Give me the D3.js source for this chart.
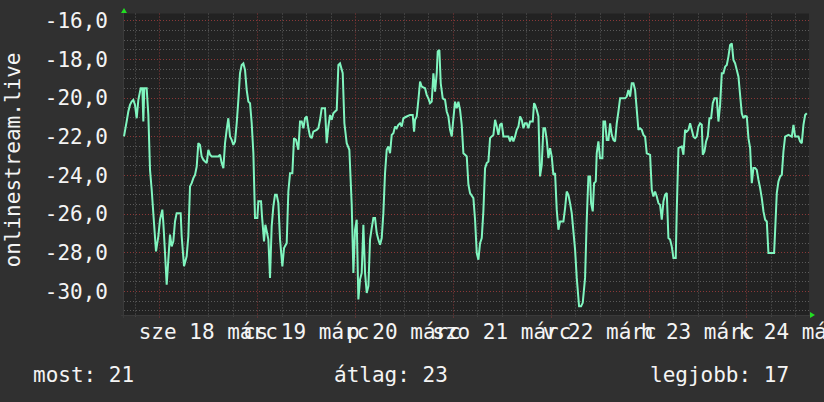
<!DOCTYPE html>
<html><head><meta charset="utf-8">
<script src="https://cdn.jsdelivr.net/npm/d3@7"></script>
<style>html,body{margin:0;padding:0;background:#303030;}svg{display:block}</style>
</head><body>
<svg id="chart" width="824" height="402"></svg>
<script>
// ---- data ----
const yTickValues = [-16, -18, -20, -22, -24, -26, -28, -30];
const dayLabels = ["sze 18 márc", "cs 19 márc", "p 20 márc", "szo 21 márc", "v 22 márc", "h 23 márc", "k 24 márc"];
const axisTitle = "onlinestream.live";
const legendLabels = ["most: 21", "átlag: 23", "legjobb: 17"];
const startTime = Date.UTC(2020, 2, 17, 15, 20);
const spanHours = 168;
const yDomain = [-31.24, -15.64];
// hours after start
const hours = [
  0.00,0.65,1.06,1.47,1.88,2.29,2.70,3.11,3.52,4.09,
  4.50,4.74,4.99,5.56,5.97,6.38,6.79,7.36,7.85,8.42,
  8.83,9.40,9.65,10.06,10.47,10.87,11.28,11.69,12.10,12.51,
  12.92,13.90,14.15,14.72,15.37,15.78,16.19,16.60,17.01,17.42,
  17.83,18.23,18.64,19.05,19.46,19.87,20.28,20.69,21.10,21.50,
  22.32,23.14,23.55,23.96,24.37,24.78,25.18,25.59,26.00,26.41,
  26.82,27.23,27.64,28.05,28.45,28.86,29.27,29.68,30.09,30.50,
  30.91,31.32,31.73,32.13,32.71,32.95,33.61,33.85,34.34,34.67,
  35.00,35.41,35.81,36.22,36.63,37.04,37.45,37.86,38.27,38.84,
  39.25,39.90,40.31,40.72,41.29,41.70,42.19,42.76,43.17,43.58,
  43.99,44.40,44.81,45.22,45.63,46.03,46.44,47.26,47.67,48.08,
  48.49,49.30,49.71,50.12,50.53,50.94,51.35,51.76,52.17,52.58,
  52.98,53.64,54.05,54.62,55.27,55.85,56.26,56.66,57.07,57.48,
  57.89,58.30,58.71,59.12,59.53,59.94,60.34,60.75,61.16,61.57,
  61.98,62.39,62.80,63.21,63.61,64.02,64.43,64.84,65.25,65.66,
  66.07,66.48,66.88,67.29,67.70,68.11,68.52,69.34,70.16,70.81,
  71.14,71.38,71.79,72.20,72.61,73.02,73.83,74.24,74.65,75.06,
  75.47,75.88,76.29,76.70,76.94,77.35,77.68,78.17,78.74,79.15,
  79.56,79.97,80.38,80.79,81.19,81.60,82.01,82.42,82.83,83.24,
  83.65,84.06,84.47,84.87,85.69,86.10,86.51,86.92,87.33,87.74,
  88.14,88.55,88.96,89.37,89.78,90.19,90.60,91.01,91.41,91.82,
  92.23,92.64,93.05,94.28,94.69,95.09,95.50,95.91,96.32,96.73,
  97.14,97.55,97.96,98.36,98.77,99.18,99.59,100.25,100.57,100.82,
  101.23,101.64,102.04,102.45,102.86,103.27,103.68,104.09,104.50,104.91,
  105.31,105.72,106.13,106.54,106.95,107.77,108.18,108.58,108.99,109.40,
  109.81,110.22,110.63,111.04,111.61,112.10,112.51,113.08,113.49,113.90,
  114.31,114.55,114.96,115.29,115.70,115.94,116.35,116.76,117.33,117.58,
  117.99,118.40,118.81,119.22,119.62,120.03,120.44,120.85,121.26,121.67,
  122.89,123.30,123.71,124.12,124.53,124.94,125.35,125.76,126.16,126.57,
  126.98,127.39,127.80,128.21,129.03,129.44,129.84,130.25,130.66,131.07,
  131.48,131.89,132.30,132.71,133.12,133.52,133.93,134.34,134.75,135.32,
  135.57,135.98,136.79,137.20,137.61,138.02,138.43,138.84,139.25,139.66,
  140.07,140.47,140.88,141.29,141.70,141.95,142.36,142.76,143.17,143.58,
  143.99,144.40,144.81,145.38,145.79,146.20,146.61,147.02,147.43,147.84,
  148.24,148.65,149.06,149.47,149.88,150.29,150.70,151.10,151.51,151.92,
  152.33,152.74,153.15,153.56,153.97,154.37,154.78,155.19,155.60,156.01,
  156.42,156.83,157.24,157.65,158.05,159.44,159.69,160.10,160.51,160.92,
  161.33,161.73,162.14,162.96,163.78,164.19,164.60,165.41,165.82,166.23,
  166.64,167.05,167.46
];
const values = [
  -22.00,-21.23,-20.71,-20.37,-20.20,-20.11,-20.37,-21.06,-20.11,-19.51,
  -19.51,-21.23,-19.51,-19.51,-20.89,-23.73,-24.76,-26.48,-27.95,-27.17,
  -26.31,-25.79,-26.48,-28.03,-29.67,-28.38,-27.08,-27.69,-27.43,-26.40,
  -25.97,-25.97,-27.17,-28.72,-28.20,-27.17,-24.59,-24.42,-24.16,-23.99,
  -23.56,-22.35,-22.44,-23.04,-23.21,-23.30,-23.38,-22.69,-22.95,-23.04,
  -23.04,-23.04,-22.95,-23.38,-23.64,-22.35,-21.66,-21.06,-22.00,-22.18,
  -22.44,-22.26,-21.32,-20.11,-18.73,-18.30,-18.22,-18.56,-19.59,-20.20,
  -20.28,-21.32,-22.87,-26.22,-26.22,-25.36,-25.36,-26.14,-27.43,-26.57,
  -26.91,-27.34,-29.32,-26.65,-25.62,-25.02,-25.02,-25.45,-27.34,-28.72,
  -27.77,-27.52,-24.85,-23.90,-23.90,-22.09,-22.18,-22.69,-21.23,-21.23,
  -21.58,-21.06,-20.97,-21.58,-22.00,-22.09,-21.75,-21.66,-21.58,-21.14,
  -20.54,-20.54,-22.35,-21.49,-20.89,-21.14,-20.80,-20.71,-20.63,-18.30,
  -18.22,-18.73,-21.32,-22.35,-22.69,-25.54,-29.06,-26.83,-26.31,-30.44,
  -29.41,-29.06,-26.57,-29.06,-30.10,-29.75,-27.34,-26.74,-26.22,-26.22,
  -27.00,-27.34,-27.60,-27.26,-25.97,-23.90,-22.69,-22.52,-22.87,-21.92,
  -21.83,-21.49,-21.58,-21.40,-21.32,-21.49,-21.06,-20.97,-20.89,-20.89,
  -21.75,-21.14,-20.97,-20.11,-19.16,-19.42,-19.51,-19.85,-20.03,-20.28,
  -20.20,-18.73,-19.68,-18.73,-17.61,-17.53,-19.25,-20.03,-20.11,-20.71,
  -20.97,-21.66,-22.00,-21.06,-20.20,-20.54,-20.20,-20.63,-21.40,-22.87,
  -22.95,-23.04,-24.50,-24.93,-25.19,-26.31,-28.03,-28.38,-27.52,-27.26,
  -25.88,-23.64,-23.38,-23.30,-22.09,-22.00,-21.92,-21.14,-21.49,-21.92,
  -21.40,-21.32,-22.00,-22.00,-22.26,-22.00,-22.26,-22.00,-21.66,-21.49,
  -20.97,-21.14,-21.58,-21.32,-21.32,-21.58,-21.23,-21.23,-20.28,-20.37,
  -20.63,-20.97,-24.07,-23.47,-21.58,-21.58,-22.18,-23.12,-22.61,-23.04,
  -23.99,-23.90,-25.79,-26.83,-26.40,-26.40,-25.71,-24.85,-25.02,-25.45,
  -25.97,-26.91,-27.86,-29.32,-30.79,-30.79,-30.61,-29.32,-26.31,-24.07,
  -24.07,-25.45,-25.88,-24.42,-24.33,-22.87,-22.26,-23.13,-23.13,-21.23,
  -21.23,-22.18,-22.18,-21.32,-21.92,-22.18,-22.26,-21.32,-20.71,-20.03,
  -20.03,-19.94,-19.60,-19.94,-19.25,-19.25,-19.60,-20.63,-21.66,-21.58,
  -21.66,-21.92,-22.01,-22.87,-22.95,-24.76,-25.11,-24.85,-25.11,-25.45,
  -25.54,-26.31,-25.36,-25.02,-24.93,-27.26,-27.34,-27.69,-28.29,-28.29,
  -25.79,-22.61,-22.52,-22.95,-21.66,-21.75,-21.66,-21.32,-21.66,-22.01,
  -22.09,-22.01,-21.49,-21.32,-21.40,-22.95,-22.78,-22.26,-22.01,-21.06,
  -21.06,-20.28,-20.03,-20.03,-21.23,-20.37,-18.73,-18.73,-18.39,-18.30,
  -17.87,-17.27,-17.19,-18.05,-18.22,-18.56,-18.91,-19.85,-20.80,-21.06,
  -20.94,-20.97,-22.09,-22.61,-24.42,-23.64,-23.64,-23.73,-24.24,-24.67,
  -25.19,-25.88,-26.31,-26.40,-28.03,-28.03,-26.91,-24.93,-24.33,-24.07,
  -23.99,-22.78,-22.01,-21.92,-22.01,-21.40,-22.01,-22.01,-22.26,-22.35,
  -21.40,-20.89,-20.80
];

// ---- layout ----
const W = 824, H = 402;
const plot = {left: 124, right: 809, top: 13.5, bottom: 315};
const FONT = "'DejaVu Sans Mono', 'Liberation Mono', monospace";
const TEXT = "#f4f4f4";

const svg = d3.select("#chart");
svg.append("rect").attr("width", W).attr("height", H).attr("fill", "#303030");

const t0 = new Date(startTime);
const t1 = new Date(startTime + spanHours * 3600e3);
const x = d3.scaleUtc().domain([t0, t1]).range([plot.left, plot.right]);
const y = d3.scaleLinear().domain(yDomain).range([plot.bottom, plot.top]);

svg.append("rect")
  .attr("x", plot.left - 1).attr("y", plot.top)
  .attr("width", plot.right - plot.left + 1).attr("height", plot.bottom - plot.top)
  .attr("fill", "#222222");

const grid = svg.append("g");
// minor horizontal
const minorY = d3.range(-31, -15.5, 0.5).filter(v => v % 2 !== 0);
grid.selectAll(".hmin").data(minorY).join("line")
  .attr("x1", plot.left).attr("x2", plot.right)
  .attr("y1", d => Math.round(y(d)) + 0.5).attr("y2", d => Math.round(y(d)) + 0.5)
  .attr("stroke", "#5a5a5a").attr("stroke-dasharray", "1,2");
// minor vertical (6h)
const minorX = d3.utcHour.every(6).range(t0, t1).filter(d => d.getUTCHours() !== 0);
grid.selectAll(".vmin").data(minorX).join("line")
  .attr("x1", d => Math.round(x(d)) + 0.5).attr("x2", d => Math.round(x(d)) + 0.5)
  .attr("y1", plot.top).attr("y2", plot.bottom + 2)
  .attr("stroke", "#5a5a5a").attr("stroke-dasharray", "1,2");
// major horizontal
grid.selectAll(".hmaj").data(yTickValues).join("line")
  .attr("x1", plot.left).attr("x2", plot.right)
  .attr("y1", d => Math.round(y(d)) + 0.5).attr("y2", d => Math.round(y(d)) + 0.5)
  .attr("stroke", "#8a3838").attr("stroke-dasharray", "1,2");
// major vertical (midnight)
const majorX = d3.utcDay.range(t0, t1);
grid.selectAll(".vmaj").data(majorX).join("line")
  .attr("x1", d => Math.round(x(d)) + 0.5).attr("x2", d => Math.round(x(d)) + 0.5)
  .attr("y1", plot.top).attr("y2", plot.bottom + 3)
  .attr("stroke", "#8a3838").attr("stroke-dasharray", "1,2");

// axes lines (subtle)
svg.append("line").attr("x1", plot.left - 0.5).attr("x2", plot.left - 0.5)
  .attr("y1", plot.top - 3).attr("y2", plot.bottom + 3).attr("stroke", "#3a3a3a");
svg.append("line").attr("x1", plot.left - 3).attr("x2", plot.right + 3)
  .attr("y1", plot.bottom + 0.5).attr("y2", plot.bottom + 0.5).attr("stroke", "#3a3a3a");

// series
const data = hours.map((h, i) => ({t: new Date(startTime + h * 3600e3), v: values[i]}));
svg.append("path").datum(data)
  .attr("fill", "none").attr("stroke", "#80f5bf").attr("stroke-width", 2)
  .attr("stroke-linejoin", "miter").attr("stroke-miterlimit", 2)
  .attr("d", d3.line().x(d => x(d.t)).y(d => y(d.v)));

// arrows
const ax = plot.left, ay = plot.top;
svg.append("path").attr("fill", "#22dd22")
  .attr("d", `M${ax - 3},${ay - 0.5} L${ax + 3},${ay - 0.5} L${ax},${ay - 5.5} Z`);
const bx = plot.right, by = plot.bottom;
svg.append("path").attr("fill", "#22dd22")
  .attr("d", `M${bx + 1},${by - 3} L${bx + 1},${by + 3} L${bx + 6},${by} Z`);

// y labels
const fmt = d3.formatLocale({decimal: ",", thousands: " ", grouping: [3], currency: ["", ""], minus: "-"}).format(".1f");
svg.append("g").selectAll("text").data(yTickValues).join("text")
  .attr("x", 108).attr("y", d => y(d) + 7.5)
  .attr("text-anchor", "end")
  .attr("font-family", FONT).attr("font-size", 21).attr("fill", TEXT)
  .text(d => fmt(d));

// x labels (centered at noon)
const noons = majorX.map(d => new Date(+d + 12 * 3600e3));
svg.append("g").selectAll("text").data(noons).join("text")
  .attr("x", d => x(d)).attr("y", 339)
  .attr("text-anchor", "middle")
  .attr("font-family", FONT).attr("font-size", 21).attr("fill", TEXT)
  .text((d, i) => dayLabels[i]);

// vertical title
svg.append("text")
  .attr("transform", `translate(20,160) rotate(-90)`)
  .attr("text-anchor", "middle")
  .attr("font-family", FONT).attr("font-size", 21).attr("fill", TEXT)
  .text(axisTitle);

// legend
const legendX = [33, 334, 650];
svg.append("g").selectAll("text").data(legendLabels).join("text")
  .attr("x", (d, i) => legendX[i]).attr("y", 382)
  .attr("font-family", FONT).attr("font-size", 21).attr("fill", TEXT)
  .text(d => d);
</script>
</body></html>
